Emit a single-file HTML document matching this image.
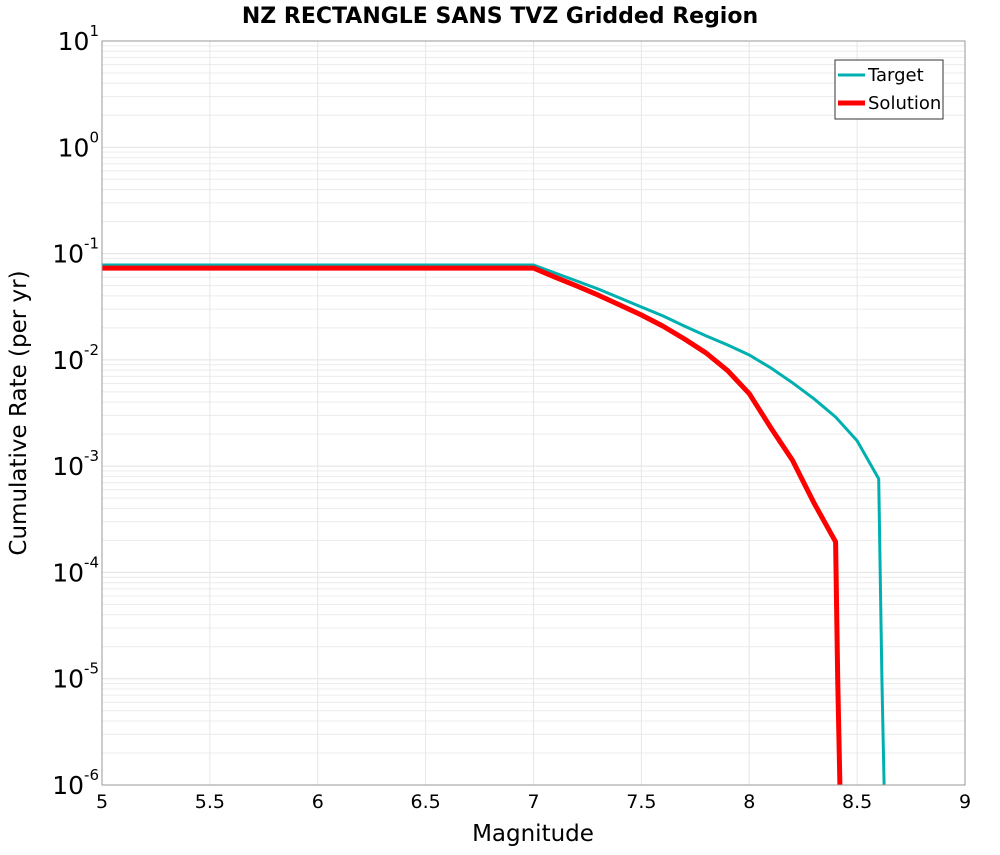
<!DOCTYPE html>
<html><head><meta charset="utf-8"><style>
body{margin:0;background:#fff;}
svg text{font-family:"DejaVu Sans","Liberation Sans",sans-serif;}
</style></head><body>
<svg id="chart" width="1000" height="850" xmlns="http://www.w3.org/2000/svg">
<text x="500" y="23" text-anchor="middle" font-size="22" font-weight="bold">NZ RECTANGLE SANS TVZ Gridded Region</text>
<g id="grid"></g>
<g id="series"></g>
<rect x="102" y="41" width="863" height="744" fill="none" stroke="#999" stroke-width="1"/>
<g id="ticks"></g>
<text x="533" y="841" text-anchor="middle" font-size="23">Magnitude</text>
<text transform="translate(26,413) rotate(-90)" text-anchor="middle" font-size="23">Cumulative Rate (per yr)</text>
<g>
<rect x="835" y="60" width="108" height="59" fill="#fff" stroke="#333" stroke-width="1"/>
<line x1="838" y1="75" x2="865" y2="75" stroke="#00b0b0" stroke-width="3"/>
<text x="868" y="81" font-size="18">Target</text>
<line x1="838" y1="103" x2="865" y2="103" stroke="#ff0000" stroke-width="5"/>
<text x="868" y="109" font-size="18">Solution</text>
</g>
</svg>
<script>
const xTicks=[5,5.5,6,6.5,7,7.5,8,8.5,9];
const yExps=[1,0,-1,-2,-3,-4,-5,-6];
const targetMags=[5,7.0,7.1,7.2,7.3,7.4,7.5,7.6,7.7,7.8,7.9,8.0,8.1,8.2,8.3,8.4,8.5,8.6,8.615,8.625];
const targetRates=[0.078,0.078,0.0656,0.0552,0.0464,0.0382,0.0314,0.0259,0.0208,0.0168,0.0138,0.0111,0.0084,0.0061,0.0043,0.0029,0.00173,0.00076,0.00001,0.0000005];
const solMags=[5,7.0,7.1,7.2,7.3,7.4,7.5,7.6,7.7,7.8,7.9,8.0,8.1,8.2,8.3,8.4,8.41,8.42];
const solRates=[0.073,0.073,0.060,0.0496,0.0407,0.0328,0.0264,0.0208,0.0157,0.0116,0.0079,0.0048,0.0023,0.00114,0.00045,0.000194,0.00001,0.0000005];
const X0=102,X1=965,Y0=41,Y1=785;
const xs=m=>X0+(m-5)/(9-5)*(X1-X0);
const ys=v=>Y0+(1-Math.log10(v))/7*(Y1-Y0);
const NS="http://www.w3.org/2000/svg";
function mk(t,a,p){const e=document.createElementNS(NS,t);for(const k in a)e.setAttribute(k,a[k]);p.appendChild(e);return e;}
const grid=document.getElementById('grid'),ticks=document.getElementById('ticks'),ser=document.getElementById('series');
for(let e=-6;e<1;e++){for(let k=2;k<=9;k++){const y=ys(k*Math.pow(10,e));
const l=mk('line',{x1:X0,x2:X1,y1:y,y2:y,stroke:'#ececec','stroke-width':1},grid);

}}
yExps.forEach(e=>{const y=ys(Math.pow(10,e));
const l=mk('line',{x1:X0,x2:X1,y1:y,y2:y,stroke:'#e2e2e2','stroke-width':1},grid);


const t=mk('text',{x:X0-3,y:y+9,'text-anchor':'end','font-size':25},ticks);


const base=mk('tspan',{},t);base.textContent='10';
const sup=mk('tspan',{dy:-14,'font-size':15},t);sup.textContent=String(e);
});
xTicks.forEach(m=>{const x=xs(m);
const l=mk('line',{x1:x,x2:x,y1:Y0,y2:Y1,stroke:'#e6e6e6','stroke-width':1},grid);


const t=mk('text',{x:x,y:808,'text-anchor':'middle','font-size':19},ticks);


t.textContent=String(m);});
function line(ms,rs,color,w,name){
const clip=v=>Math.min(ys(v),Y1);
const d=ms.map((m,i)=>(i?'L':'M')+xs(m).toFixed(1)+','+clip(rs[i]).toFixed(1)).join(' ');
const p=mk('path',{d:d,fill:'none',stroke:color,'stroke-width':w,'stroke-linejoin':'round'},ser);

}
line(targetMags,targetRates,'#00b0b0',3,'target-line');
line(solMags,solRates,'#ff0000',5,'solution-line');
</script>
</body></html>
